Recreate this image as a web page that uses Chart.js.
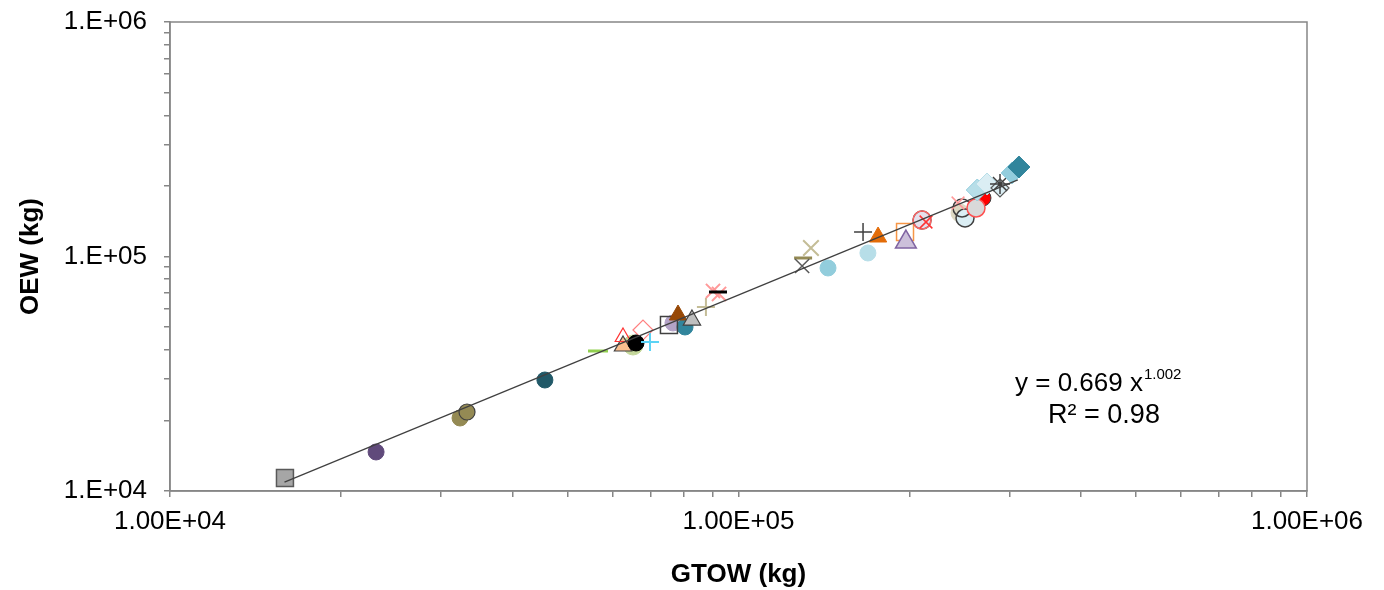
<!DOCTYPE html>
<html>
<head>
<meta charset="utf-8">
<script src="https://cdn.jsdelivr.net/npm/chart.js@4.4.1/dist/chart.umd.min.js"></script>
<style>
  html, body { margin: 0; padding: 0; background: #fff; }
</style>
</head>
<body>
<canvas id="weightChart" width="1384" height="590"></canvas>
<script>
// GTOW vs OEW, log-log scatter with power-law trend line

// ─── Data ────────────────────────────────────────────────────
const gtow = [15930, 23040, 32370, 33300, 45650, 56600,
              65230, 62640, 62640, 67920, 66020, 69880,
              76690, 80530, 75450, 78270, 82820, 87640,
              90190, 92420, 92040, 129900, 129400, 134100,
              143700, 168900, 165600, 176000, 196300, 197000,
              210300, 210300, 213700,
              245300, 250300, 247300, 243300, 269200, 261700,
              263000, 273600, 288400, 288400, 302800, 311400];
const oew  = [11360, 14670, 20480, 21720, 29740, 39540,
              41940, 41530, 45360, 48600, 42770, 43190,
              52050, 50060, 51050, 56300, 53590, 60910,
              71280, 69210, 70580, 98540, 91100, 108700,
              89340, 103500, 127200, 121100, 127200, 115300,
              143000, 143000, 140300,
              153300, 146000, 161000, 169100, 177700, 161000,
              192100, 203800, 196000, 203800, 227100, 240800];

// trend line end points: y = 0.669 x^1.002
const trendGtow = [15900, 310000];
const trendOew  = [10900, 212000];
const eqCoef = '0.669';
const eqExp  = '1.002';
const eqR2   = '0.98';

// axis ticks
const decades        = [1e4, 1e5];
const minorSteps     = [1, 2, 3, 4, 5, 6, 7, 8, 9];
const majorTicks     = [1e4, 1e5, 1e6];
const xTickLabels    = ['1.00E+04', '1.00E+05', '1.00E+06'];
const yTickLabels    = ['1.E+04', '1.E+05', '1.E+06'];

// ─── Marker styles (one per point, back to front) ────────────
const NONE = 'rgba(0,0,0,0)';
const markers = [
    { s: 'rect',     f: '#a6a6a6', b: '#595959', r: 12, w: 1.5 },
    { s: 'circle',   f: '#604a7b', b: '#604a7b', r: 8,  w: 1 },
    { s: 'circle',   f: '#948a54', b: '#948a54', r: 8,  w: 1 },
    { s: 'circle',   f: '#948a54', b: '#404040', r: 8,  w: 1.2 },
    { s: 'circle',   f: '#215968', b: '#215968', r: 8,  w: 1 },
    { s: 'line',     f: NONE,      b: '#92d050', r: 10, w: 3 },

    { s: 'circle',   f: '#c4d79b', b: '#c4d79b', r: 10, w: 1 },
    { s: 'triangle', f: '#fabf8f', b: '#404040', r: 10, w: 1.2 },
    { s: 'triangle', f: NONE,      b: '#ff3333', r: 9,  w: 1.2 },
    { s: 'rectRot',  f: NONE,      b: '#ff8080', r: 10, w: 1.2 },
    { s: 'circle',   f: '#000000', b: '#000000', r: 8,  w: 1 },
    { s: 'cross',    f: NONE,      b: '#5bd3f5', r: 9,  w: 2 },

    { s: 'circle',   f: '#b3a2c7', b: '#b3a2c7', r: 8,  w: 1 },
    { s: 'circle',   f: '#31859c', b: '#31859c', r: 8,  w: 1 },
    { s: 'rect',     f: NONE,      b: '#404040', r: 12, w: 1.5 },
    { s: 'triangle', f: '#974806', b: '#974806', r: 10, w: 1 },
    { s: 'triangle', f: '#bfbfbf', b: '#404040', r: 10, w: 1.2 },
    { s: 'cross',    f: NONE,      b: '#c4bd97', r: 9,  w: 2 },

    { s: 'crossRot', f: NONE,      b: '#ff9999', r: 10, w: 2 },
    { s: 'crossRot', f: NONE,      b: '#ff9999', r: 10, w: 2 },
    { s: 'line',     f: NONE,      b: '#000000', r: 9,  w: 3 },
    { s: 'line',     f: NONE,      b: '#948a54', r: 9,  w: 3 },
    { s: 'crossRot', f: NONE,      b: '#595959', r: 10, w: 1.5 },
    { s: 'crossRot', f: NONE,      b: '#c4bd97', r: 11, w: 2 },

    { s: 'circle',   f: '#92cddc', b: '#92cddc', r: 8,  w: 1 },
    { s: 'circle',   f: '#b7dee8', b: '#b7dee8', r: 8,  w: 1 },
    { s: 'cross',    f: NONE,      b: '#404040', r: 9,  w: 1.5 },
    { s: 'triangle', f: '#e36c09', b: '#e36c09', r: 10, w: 1 },
    { s: 'rect',     f: NONE,      b: '#f79646', r: 12, w: 1.5 },
    { s: 'triangle', f: '#ccc0da', b: '#8064a2', r: 12, w: 1.5 },

    { s: 'circle',   f: '#e6e0ec', b: '#404040', r: 9,  w: 1.5 },
    { s: 'circle',   f: NONE,      b: '#ff6666', r: 9,  w: 1.5 },
    { s: 'crossRot', f: NONE,      b: '#ff3333', r: 9,  w: 1.5 },

    { s: 'circle',   f: '#ddd9c3', b: '#ddd9c3', r: 9,  w: 1 },
    { s: 'circle',   f: '#dbeef4', b: '#404040', r: 9,  w: 1.5 },
    { s: 'circle',   f: NONE,      b: '#404040', r: 9,  w: 1.5 },
    { s: 'crossRot', f: NONE,      b: '#ff9999', r: 9,  w: 1.5 },
    { s: 'circle',   f: '#ff0000', b: '#404040', r: 8,  w: 1 },
    { s: 'circle',   f: '#d9d9d9', b: '#ff5050', r: 9,  w: 1.5 },

    { s: 'rectRot',  f: '#b7dee8', b: '#93cddd', r: 11, w: 1 },
    { s: 'rectRot',  f: '#dbeef4', b: '#b7dee8', r: 11, w: 1 },
    { s: 'rectRot',  f: '#dbeef4', b: '#595959', r: 9,  w: 1.2 },
    { s: 'star',     f: NONE,      b: '#404040', r: 10, w: 1.5 },
    { s: 'rectRot',  f: '#93cddd', b: '#93cddd', r: 11, w: 1 },
    { s: 'rectRot',  f: '#31859c', b: '#31859c', r: 11, w: 1 }
];

const FONT = '"Liberation Sans", Arial, sans-serif';
const AXIS_GREY = '#868686';

// ─── Plugins: plot frame + equation text ─────────────────────
const framePlugin = {
    id: 'frame',
    afterDraw(chart) {
        const { ctx, chartArea: a } = chart;
        ctx.save();
        ctx.strokeStyle = AXIS_GREY;
        ctx.lineWidth = 1.5;
        ctx.strokeRect(a.left, a.top, a.right - a.left, a.bottom - a.top);
        ctx.restore();
    }
};

const equationPlugin = {
    id: 'equation',
    afterDraw(chart) {
        const ctx = chart.ctx;
        ctx.save();
        ctx.fillStyle = '#000';
        ctx.textBaseline = 'alphabetic';
        ctx.textAlign = 'left';
        ctx.font = '26px ' + FONT;
        const main = 'y = ' + eqCoef + ' x';
        const x0 = 1015;
        ctx.fillText(main, x0, 391);
        const w = ctx.measureText(main).width;
        ctx.font = '15px ' + FONT;
        ctx.fillText(eqExp, x0 + w + 1, 379);
        ctx.font = '27px ' + FONT;
        ctx.textAlign = 'center';
        ctx.fillText('R\u00B2 = ' + eqR2, 1104, 423);
        ctx.restore();
    }
};

// ─── Axis helpers ────────────────────────────────────────────
function logTicks(scale) {
    const vals = [];
    decades.forEach(d => minorSteps.forEach(m => vals.push(m * d)));
    vals.push(majorTicks[majorTicks.length - 1]);
    scale.ticks = vals.map(v => ({ value: v }));
}

function fixBox(isX) {
    return s => {
        if (isX) s.height = 99; else s.width = 170;
        s.paddingTop = 0;
        s.paddingBottom = 0;
        s.paddingLeft = 0;
        s.paddingRight = 0;
    };
}

function axisOptions(labels, title, isX) {
    return {
        type: 'logarithmic',
        position: isX ? 'bottom' : 'left',
        min: 1e4,
        max: 1e6,
        afterBuildTicks: logTicks,
        afterFit: fixBox(isX),
        grid: { drawOnChartArea: false, drawTicks: true, tickLength: 6, color: AXIS_GREY, lineWidth: 1.5 },
        border: { display: true, color: AXIS_GREY, width: 1.5 },
        ticks: {
            autoSkip: false,
            maxRotation: 0,
            color: '#000',
            padding: isX ? 9 : 17,
            font: { family: FONT, size: 26 },
            callback: v => {
                const i = majorTicks.indexOf(v);
                return i >= 0 ? labels[i] : '';
            }
        },
        title: {
            display: true,
            text: title,
            color: '#000',
            font: { family: FONT, size: 26, weight: 'bold' },
            padding: isX ? { top: 0, bottom: 0 } : { top: 15, bottom: 0 }
        }
    };
}

// ─── Chart ───────────────────────────────────────────────────
const ctx = document.getElementById('weightChart');

new Chart(ctx, {
    type: 'scatter',
    data: {
        datasets: [
            {
                type: 'line',
                label: 'Power fit',
                data: trendGtow.map((x, i) => ({ x, y: trendOew[i] })),
                borderColor: '#404040',
                borderWidth: 1.3,
                pointRadius: 0,
                fill: false,
                order: 0
            },
            {
                label: 'Aircraft',
                data: gtow.map((x, i) => ({ x, y: oew[i] })),
                pointStyle:           c => markers[c.dataIndex].s,
                pointRadius:          c => markers[c.dataIndex].r,
                pointBackgroundColor: c => markers[c.dataIndex].f,
                pointBorderColor:     c => markers[c.dataIndex].b,
                pointBorderWidth:     c => markers[c.dataIndex].w,
                order: 1
            }
        ]
    },
    options: {
        responsive: false,
        animation: false,
        layout: { padding: { left: 0, right: 77, top: 22, bottom: 0 } },
        plugins: {
            legend: { display: false },
            tooltip: { enabled: false }
        },
        scales: {
            x: axisOptions(xTickLabels, 'GTOW (kg)', true),
            y: axisOptions(yTickLabels, 'OEW (kg)', false)
        }
    },
    plugins: [framePlugin, equationPlugin]
});
</script>
</body>
</html>
